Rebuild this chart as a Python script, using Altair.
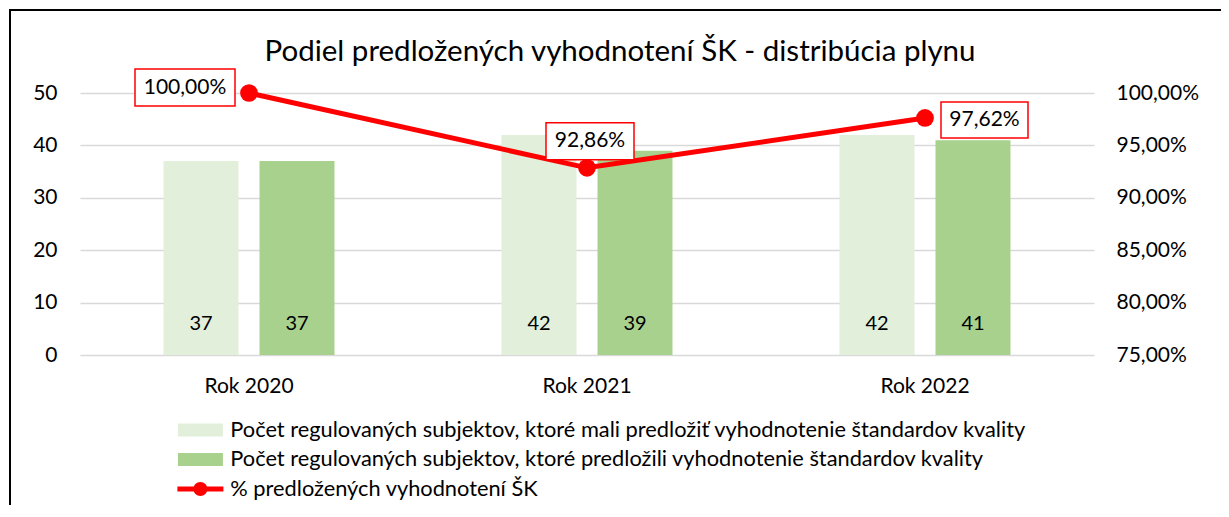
import altair as alt
import pandas as pd

# ---- data ----
years = ["Rok 2020", "Rok 2021", "Rok 2022"]
expected = [37, 42, 42]
submitted = [37, 39, 41]
pct = [1.0, 0.9286, 0.9762]

title_text = "Podiel predložených vyhodnotení ŠK - distribúcia plynu"
s_exp = "Počet regulovaných subjektov, ktoré mali predložiť vyhodnotenie štandardov kvality"
s_sub = "Počet regulovaných subjektov, ktoré predložili vyhodnotenie štandardov kvality"
s_pct = "% predložených vyhodnotení ŠK"
series = [s_exp, s_sub, s_pct]

c_light = "#e2efda"
c_dark = "#a9d18e"
c_red = "#ff0000"
FONT = "Lato"

bars_df = pd.DataFrame(
    {"year": years * 2,
     "series": [s_exp] * 3 + [s_sub] * 3,
     "value": expected + submitted}
)
line_df = pd.DataFrame({"year": years, "pct": pct})
legend_df = pd.DataFrame({"series": series})
single_df = pd.DataFrame({"t": [title_text]})

W, H = 1014, 262

xenc = alt.X("year:N", sort=years, title=None,
             scale=alt.Scale(paddingInner=0, paddingOuter=0),
             axis=alt.Axis(labelAngle=0, ticks=False, domain=False,
                           labelFontSize=21, labelFont=FONT, labelColor="#000000",
                           labelPadding=20, grid=False))
xoff = alt.XOffset("series:N", sort=[s_exp, s_sub],
                   scale=alt.Scale(domain=[s_exp, s_sub], paddingInner=0.219, paddingOuter=0.87))
ybar = alt.Y("value:Q", title=None,
             scale=alt.Scale(domain=[0, 50], nice=False),
             axis=alt.Axis(values=[0, 10, 20, 30, 40, 50], ticks=False, domain=False,
                           labelFontSize=21, labelFont=FONT, labelColor="#000000",
                           labelPadding=23, grid=True, gridColor="#d9d9d9", gridWidth=1.5))

bars = alt.Chart(bars_df).mark_bar().encode(
    x=xenc,
    xOffset=xoff,
    y=ybar,
    color=alt.Color("series:N", scale=alt.Scale(domain=[s_exp, s_sub], range=[c_light, c_dark]),
                    legend=None),
)

bar_text = alt.Chart(bars_df).mark_text(fontSize=20, font=FONT, color="#000000", baseline="middle").encode(
    x=alt.X("year:N", sort=years),
    xOffset=alt.XOffset("series:N", sort=[s_exp, s_sub]),
    y=alt.datum(6.0),
    text=alt.Text("value:Q"),
)

left = alt.layer(bars, bar_text)

ypct_axis = alt.Y("pct:Q", title=None,
                  scale=alt.Scale(domain=[0.75, 1.0], nice=False),
                  axis=alt.Axis(orient="right", values=[0.75, 0.8, 0.85, 0.9, 0.95, 1.0],
                                ticks=False, domain=False, grid=False,
                                labelFontSize=21, labelFont=FONT, labelColor="#000000",
                                labelPadding=22,
                                labelExpr="replace(format(datum.value, '.2%'), '.', ',')"))
ypct = alt.Y("pct:Q", scale=alt.Scale(domain=[0.75, 1.0], nice=False))

line = alt.Chart(line_df).mark_line(color=c_red, strokeWidth=5).encode(
    x=alt.X("year:N", sort=years), y=ypct_axis)

# label box shapes (path units are 5 px at size 100) and text offsets, per year
box_paths = [
    "M-22.8,-4.8H-2.8V2.6H-22.8Z",
    "M-8.2,-9H9.4V-1.6H-8.2Z",
    "M3.2,-3.2H20.6V4H3.2Z",
]
text_offsets = [(-64, -5.5), (3, -26.5), (59.5, 2)]

label_layers = []
for i, yr in enumerate(years):
    box = alt.Chart(line_df).transform_filter(alt.datum.year == yr).mark_point(
        shape=box_paths[i], size=100, filled=True, fill="#ffffff", stroke=c_red,
        strokeWidth=1.5, opacity=1).encode(x=alt.X("year:N", sort=years), y=ypct)
    txt = alt.Chart(line_df).transform_filter(alt.datum.year == yr).transform_calculate(
        lab="replace(format(datum.pct, '.2%'), '.', ',')").mark_text(
        fontSize=21, font=FONT, color="#000000", align="center", baseline="middle",
        dx=text_offsets[i][0], dy=text_offsets[i][1]).encode(
        x=alt.X("year:N", sort=years), y=ypct, text="lab:N")
    label_layers += [box, txt]

dots = alt.Chart(line_df).mark_point(filled=True, size=314, color=c_red, opacity=1).encode(
    x=alt.X("year:N", sort=years), y=ypct)

right = alt.layer(line, *label_layers, dots)

leg_props = dict(orient="none", legendX=109.5, legendY=326, title=None,
                 direction="vertical", labelFontSize=21.8, labelFont=FONT,
                 labelColor="#000000", labelLimit=1200, symbolSize=100,
                 symbolStrokeWidth=0, labelOffset=19, rowPadding=6.5,
                 symbolOpacity=1)
legend_layer = alt.Chart(legend_df).transform_filter("false").mark_point(filled=True).encode(
    fill=alt.Fill("series:N", scale=alt.Scale(domain=series, range=[c_light, c_dark, c_red]),
                  legend=alt.Legend(**leg_props)),
    shape=alt.Shape("series:N", scale=alt.Scale(
        domain=series,
        range=["M-4.5,-1.3H4.5V1.3H-4.5Z",
               "M-4.5,-1.3H4.5V1.3H-4.5Z",
               "M-4.6,-0.5H4.6V0.5H-4.6Z M1.4,0A1.4,1.4 0 1,1 -1.4,0A1.4,1.4 0 1,1 1.4,0Z"]),
        legend=alt.Legend(**leg_props)),
)

frame = alt.Chart(single_df).mark_rect(fill="#ffffff", fillOpacity=0, stroke="#000000",
                                       strokeWidth=2).encode(
    x=alt.value(-70), x2=alt.value(1300), y=alt.value(-83), y2=alt.value(600))

title = alt.Chart(single_df).mark_text(font=FONT, fontSize=29.5, color="#000000",
                                       align="center", baseline="alphabetic").encode(
    x=alt.value(540), y=alt.value(-32), text="t:N")

chart = alt.layer(frame, title, left, right, legend_layer).resolve_scale(
    y="independent"
).properties(
    width=W, height=H,
    autosize=alt.AutoSizeParams(type="none"),
    padding={"left": 72, "top": 85, "right": 127, "bottom": 150},
).configure(background="#ffffff").configure_view(stroke=None)

chart.save("out.html", embed_options={"renderer": "svg", "actions": False})
